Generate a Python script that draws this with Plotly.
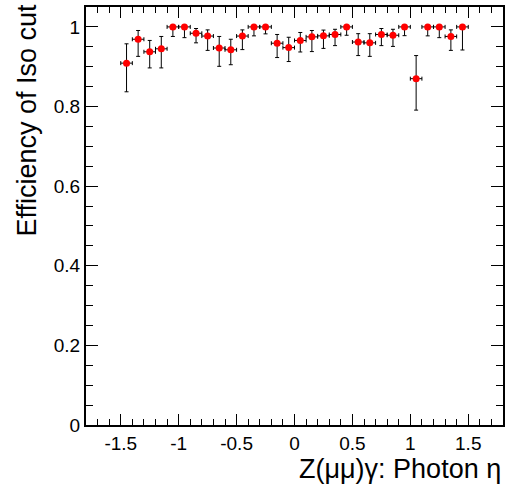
import plotly.graph_objects as go

eta = [-1.45, -1.35, -1.25, -1.15, -1.05, -0.95, -0.85, -0.75, -0.65, -0.55,
       -0.45, -0.35, -0.25, -0.15, -0.05, 0.05, 0.15, 0.25, 0.35, 0.45,
       0.55, 0.65, 0.75, 0.85, 0.95, 1.05, 1.15, 1.25, 1.35, 1.45]
eff = [0.909, 0.969, 0.9375, 0.945, 1.0, 1.0, 0.984, 0.977, 0.947, 0.9425,
       0.977, 1.0, 1.0, 0.959, 0.948, 0.966, 0.975, 0.9775, 0.981, 1.0,
       0.962, 0.96, 0.981, 0.979, 1.0, 0.87, 1.0, 1.0, 0.976, 1.0]
eff_hi = [0.9575, 0.991, 0.966, 0.976, 1.0, 1.0, 0.996, 0.9925, 0.976, 0.969,
          0.9925, 1.0, 1.0, 0.981, 0.974, 0.986, 0.991, 0.992, 0.994, 1.0,
          0.983, 0.983, 0.996, 0.994, 1.0, 0.928, 1.0, 1.0, 0.9925, 1.0]
eff_lo = [0.837, 0.926, 0.897, 0.897, 0.976, 0.973, 0.96, 0.941, 0.901, 0.905,
          0.943, 0.9775, 0.9825, 0.923, 0.913, 0.937, 0.938, 0.946, 0.953, 0.979,
          0.928, 0.926, 0.953, 0.951, 0.978, 0.791, 0.9775, 0.973, 0.941, 0.942]
bin_half_width = 0.05

err_up = [h - e for h, e in zip(eff_hi, eff)]
err_dn = [e - l for e, l in zip(eff, eff_lo)]

FONT = "Liberation Sans, Arial, sans-serif"

fig = go.Figure()
fig.add_trace(go.Scatter(
    x=eta, y=eff, mode="markers",
    marker=dict(color="#ff0000", size=7, line=dict(width=0)),
    error_y=dict(type="data", symmetric=False, array=err_up, arrayminus=err_dn,
                 color="black", thickness=1, width=2),
    error_x=dict(type="constant", value=bin_half_width, color="black",
                 thickness=1, width=2),
    showlegend=False,
))

axis_common = dict(
    showgrid=False, zeroline=False, showline=True, linecolor="black",
    linewidth=2, mirror="allticks", ticks="inside", tickcolor="black",
    tickfont=dict(family=FONT, size=19, color="black"),
)

fig.update_xaxes(
    range=[-1.8, 1.8], tickvals=[-1.5, -1, -0.5, 0, 0.5, 1, 1.5],
    ticktext=["-1.5", "-1", "-0.5", "0", "0.5", "1", "1.5"],
    ticklen=11, tickwidth=1,
    minor=dict(dtick=0.1, tick0=0, ticklen=6, ticks="inside", tickcolor="black"),
    **axis_common,
)
fig.update_yaxes(
    range=[0, 1.05], tickvals=[0, 0.2, 0.4, 0.6, 0.8, 1],
    ticktext=["0", "0.2", "0.4", "0.6", "0.8", "1"],
    ticklen=12, tickwidth=1,
    minor=dict(dtick=0.05, tick0=0, ticklen=7, ticks="inside", tickcolor="black"),
    **axis_common,
)

fig.add_annotation(
    text="Z(\u03bc\u03bc)\u03b3: Photon \u03b7", xref="paper", yref="paper",
    x=1, y=0, xanchor="right", yanchor="top", yshift=-27, showarrow=False,
    font=dict(family=FONT, size=27, color="black"),
)
fig.add_annotation(
    text="Efficiency of Iso cut", xref="paper", yref="paper",
    x=0, y=1, xanchor="center", yanchor="top", xshift=-60, yshift=5,
    textangle=-90, showarrow=False,
    font=dict(family=FONT, size=27, color="black"),
)

fig.update_layout(
    width=510, height=489,
    margin=dict(l=86, r=6, t=5, b=64),
    paper_bgcolor="white", plot_bgcolor="white",
)

fig.write_html("out.html")
